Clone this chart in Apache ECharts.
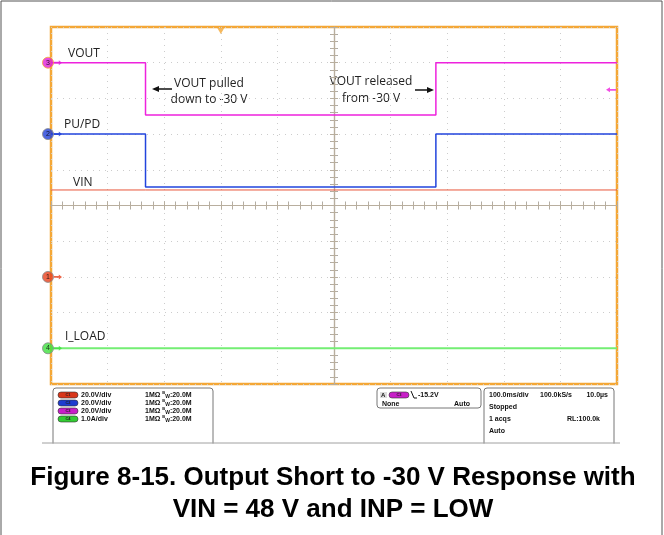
<!DOCTYPE html>
<html>
<head>
<meta charset="utf-8">
<script src="https://cdn.jsdelivr.net/npm/echarts/dist/echarts.min.js"></script>
<style>
html,body{margin:0;padding:0;background:#fff;}
#main{width:664px;height:535px;}
</style>
</head>
<body>
<div id="main"></div>
<script>
// ---- data ----
const timeEdgesMs = [-500, -333, 180, 500];      // time relative to screen centre, ms
const voutV  = [0, -29.3, 0, 0];                  // C3, 20 V/div
const pupdV  = [0, -29.7, 0, 0];                  // C2, 20 V/div
const vinV   = [48.7, 48.7, 48.7, 48.7];          // C1, 20 V/div
const iloadA = [0, 0, 0, 0];                      // C4, 1 A/div
const channelIds = ['1', '2', '3', '4'];
const channelOffsetDiv = [-2, 2, 4, -4];
const channelScale = [20, 20, 20, 1];
const triggerTimeMs = -200;
const triggerLevelV = -15.2;   // on C3
const xTicksMs = [-500, 500, 100];
const yTicksDiv = [-5, 5, 1];

const chColors = ['#e8401c', '#1f3fd8', '#e01fd8', '#3ee03e'];

function toDiv(vals, ch) {
  return timeEdgesMs.map((t, i) => [t, channelOffsetDiv[ch] + vals[i] / channelScale[ch]]);
}

const chart = echarts.init(document.getElementById('main'), null, {renderer: 'canvas'});

const frameTick = {show: true, inside: true, length: 4, lineStyle: {color: '#a8a8a8', width: 1}};
const frameMinor = {show: true, splitNumber: 5, length: 4, lineStyle: {color: '#a8a8a8', width: 1}};
const centerColor = '#b8ae9e';

function xAx(extra) {
  return Object.assign({
    type: 'value', min: xTicksMs[0], max: xTicksMs[1], interval: xTicksMs[2],
    axisLabel: {show: false}, axisLine: {show: false}, splitLine: {show: false},
    axisTick: frameTick, minorTick: frameMinor
  }, extra);
}
function yAx(extra) {
  return Object.assign({
    type: 'value', min: yTicksDiv[0], max: yTicksDiv[1], interval: yTicksDiv[2],
    axisLabel: {show: false}, axisLine: {show: false}, splitLine: {show: false},
    axisTick: frameTick, minorTick: frameMinor
  }, extra);
}
const centreLine = {show: true, onZero: true, onZeroAxisIndex: 0, lineStyle: {color: centerColor, width: 1.2}};
const cTickIn = {show: true, inside: true, length: 4, lineStyle: {color: centerColor}};
const cTickOut = {show: true, inside: false, length: 4, lineStyle: {color: centerColor}};
const cMinorIn = {show: true, splitNumber: 5, length: 3, lineStyle: {color: centerColor}};
const cMinorOut = {show: true, splitNumber: 5, length: 3, lineStyle: {color: centerColor}};

const channelMarkers = channelIds.map((id, i) => ({
  value: [xTicksMs[0], channelOffsetDiv[i]],
  itemStyle: {color: chColors[i], borderColor: i === 2 ? '#f4a736' : '#888', borderWidth: 1},
  label: {show: true, formatter: id, color: '#000', fontSize: 7, fontFamily: 'Liberation Sans', offset: [0, 0]}
}));

const arrowRight = 'path://M0,2 L6,2 L6,0 L10,3 L6,6 L6,4 L0,4 Z';
const arrowLeft = 'path://M10,2 L4,2 L4,0 L0,3 L4,6 L4,4 L10,4 Z';

function txt(x, y, s, size, extra) {
  return Object.assign({
    type: 'text', x: x, y: y,
    style: Object.assign({text: s, fill: '#222', font: size + 'px "Open Sans"', textVerticalAlign: 'middle'}, extra || {})
  });
}
function sm(x, y, s, extra) {
  return {type: 'text', x: x, y: y, style: Object.assign({text: s, fill: '#111', font: 'bold 7px "Liberation Sans"', textVerticalAlign: 'middle'}, extra || {})};
}
function pill(x, y, color, label) {
  return [
    {type: 'rect', shape: {x: x, y: y, width: 20, height: 6, r: 3}, style: {fill: color, stroke: '#333', lineWidth: 0.6}},
    {type: 'text', x: x + 10, y: y + 3, style: {text: label, fill: '#222', font: 'bold 4px "Liberation Sans"', textAlign: 'center', textVerticalAlign: 'middle'}}
  ];
}

const rowsY = [395, 403, 411, 419];
const chScaleTxt = ['20.0V/div', '20.0V/div', '20.0V/div', '1.0A/div'];
const chPill = ['#d8361a', '#1e3ccf', '#c81ec8', '#33cc33'];
let panel = [];
panel.push({type: 'rect', shape: {x: 53, y: 388, width: 160, height: 60, r: 3}, style: {fill: '#fff', stroke: '#777', lineWidth: 1}});
panel.push({type: 'rect', shape: {x: 377, y: 388, width: 104, height: 20, r: 3}, style: {fill: '#fff', stroke: '#777', lineWidth: 1}});
panel.push({type: 'rect', shape: {x: 484, y: 388, width: 130, height: 60, r: 3}, style: {fill: '#fff', stroke: '#777', lineWidth: 1}});
panel.push({type: 'rect', shape: {x: 30, y: 443.5, width: 600, height: 10}, style: {fill: '#fff'}});
panel.push({type: 'line', shape: {x1: 42, y1: 443, x2: 620, y2: 443}, style: {stroke: '#a0a0a0', lineWidth: 1}});
rowsY.forEach((y, i) => {
  panel.push(...pill(58, y - 3, chPill[i], 'C' + (i + 1)));
  panel.push(sm(81, y, chScaleTxt[i]));
  panel.push({type: 'text', x: 145, y: y, style: {text: '1MΩ {b|B}{w|W}:20.0M', fill: '#111', font: 'bold 7px "Liberation Sans"', textVerticalAlign: 'middle',
    rich: {b: {font: 'bold 4px "Liberation Sans"', fill: '#111', padding: [0, 0, 4, 0]}, w: {font: 'bold 5px "Liberation Sans"', fill: '#111', padding: [3, 0, 0, 0]}}}});
});
panel.push({type: 'rect', shape: {x: 380, y: 392, width: 7, height: 6}, style: {fill: '#ddd'}});
panel.push(sm(381, 395, 'A', {font: 'bold 6px "Liberation Sans"'}));
panel.push(...pill(389, 392, '#c81ec8', 'C3'));
panel.push({type: 'polyline', shape: {points: [[411, 391], [414, 398], [417, 398]]}, style: {stroke: '#111', lineWidth: 1, fill: null}});
panel.push(sm(418, 395, '-15.2V'));
panel.push(sm(382, 404, 'None'));
panel.push(sm(470, 404, 'Auto', {textAlign: 'right'}));
panel.push(sm(489, 395, '100.0ms/div'));
panel.push(sm(540, 395, '100.0kS/s'));
panel.push(sm(608, 395, '10.0µs', {textAlign: 'right'}));
panel.push(sm(489, 407, 'Stopped'));
panel.push(sm(489, 419, '1 acqs'));
panel.push(sm(600, 419, 'RL:100.0k', {textAlign: 'right'}));
panel.push(sm(489, 431, 'Auto'));

const annotations = [
  txt(68, 54, 'VOUT', 12),
  txt(64, 125, 'PU/PD', 12),
  txt(73, 183, 'VIN', 12),
  txt(65, 337, 'I_LOAD', 12),
  txt(209, 84, 'VOUT pulled', 12, {textAlign: 'center'}),
  txt(209, 100, 'down to -30 V', 12, {textAlign: 'center'}),
  txt(371, 82, 'VOUT released', 12, {textAlign: 'center'}),
  txt(371, 99, 'from -30 V', 12, {textAlign: 'center'}),
  {type: 'line', shape: {x1: 158, y1: 89, x2: 172, y2: 89}, style: {stroke: '#111', lineWidth: 1.5}},
  {type: 'polygon', shape: {points: [[152, 89], [159, 86], [159, 92]]}, style: {fill: '#111'}},
  {type: 'line', shape: {x1: 415, y1: 90, x2: 428, y2: 90}, style: {stroke: '#111', lineWidth: 1.5}},
  {type: 'polygon', shape: {points: [[434, 90], [427, 87], [427, 93]]}, style: {fill: '#111'}},
  {type: 'text', x: 333, y: 478, style: {text: 'Figure 8-15. Output Short to -30 V Response with', fill: '#000', font: 'bold 26px "Liberation Sans"', textAlign: 'center', textVerticalAlign: 'middle'}},
  {type: 'text', x: 333, y: 510, style: {text: 'VIN = 48 V and INP = LOW', fill: '#000', font: 'bold 26px "Liberation Sans"', textAlign: 'center', textVerticalAlign: 'middle'}},
  {type: 'rect', shape: {x: 1, y: 1, width: 661, height: 560}, style: {fill: null, stroke: '#555', lineWidth: 1}}
];

const option = {
  backgroundColor: '#fff',
  animation: false,
  grid: {left: 51, top: 27, width: 566, height: 357, show: true, borderColor: '#f4a736', borderWidth: 2.5, backgroundColor: '#fff', containLabel: false},
  xAxis: [
    xAx({position: 'bottom', splitLine: {show: true, lineStyle: {color: '#cccccc', type: [1, 5], width: 1}}}),
    xAx({position: 'top'}),
    xAx({position: 'bottom', axisLine: centreLine, axisTick: cTickIn, minorTick: cMinorIn}),
    xAx({position: 'bottom', axisLine: centreLine, axisTick: cTickOut, minorTick: cMinorOut})
  ],
  yAxis: [
    yAx({position: 'left', splitLine: {show: true, lineStyle: {color: '#cccccc', type: [1, 5], width: 1}}}),
    yAx({position: 'right'}),
    yAx({position: 'left', axisLine: centreLine, axisTick: cTickIn, minorTick: cMinorIn}),
    yAx({position: 'left', axisLine: centreLine, axisTick: cTickOut, minorTick: cMinorOut})
  ],
  series: [
    {type: 'line', name: 'VIN', step: 'end', data: toDiv(vinV, 0), symbol: 'none', lineStyle: {color: '#e8553a', width: 1}, z: 3},
    {type: 'line', name: 'I_LOAD', step: 'end', data: toDiv(iloadA, 3), symbol: 'none', lineStyle: {color: '#74ee74', width: 2}, z: 3},
    {type: 'line', name: 'PU/PD', step: 'end', data: toDiv(pupdV, 1), symbol: 'none', lineStyle: {color: '#2244dd', width: 1.5}, z: 4},
    {type: 'line', name: 'VOUT', step: 'end', data: toDiv(voutV, 2), symbol: 'none', lineStyle: {color: '#ee22dd', width: 1.5}, z: 5},
    {type: 'scatter', name: 'markerArrows', clip: false, symbol: arrowRight, symbolSize: [8, 5], symbolOffset: [7, 0], z: 6,
      data: channelIds.map((id, i) => ({value: [xTicksMs[0], channelOffsetDiv[i]], itemStyle: {color: chColors[i]}}))},
    {type: 'scatter', name: 'markers', clip: false, symbol: 'circle', symbolSize: 11, symbolOffset: [-3, 0], z: 7, data: channelMarkers},
    {type: 'scatter', name: 'trigLevel', clip: false, symbol: arrowLeft, symbolSize: [10, 5], symbolOffset: [-6, 0], z: 7,
      data: [{value: [xTicksMs[1], channelOffsetDiv[2] + triggerLevelV / channelScale[2]], itemStyle: {color: '#ee22dd'}}]},
    {type: 'scatter', name: 'trigPos', clip: false, symbol: 'triangle', symbolRotate: 180, symbolSize: [7, 6], symbolOffset: [0, 4], z: 7,
      data: [{value: [triggerTimeMs, yTicksDiv[1]], itemStyle: {color: '#f4a736'}}]}
  ],
  graphic: panel.concat(annotations)
};
chart.setOption(option);
</script>
</body>
</html>
